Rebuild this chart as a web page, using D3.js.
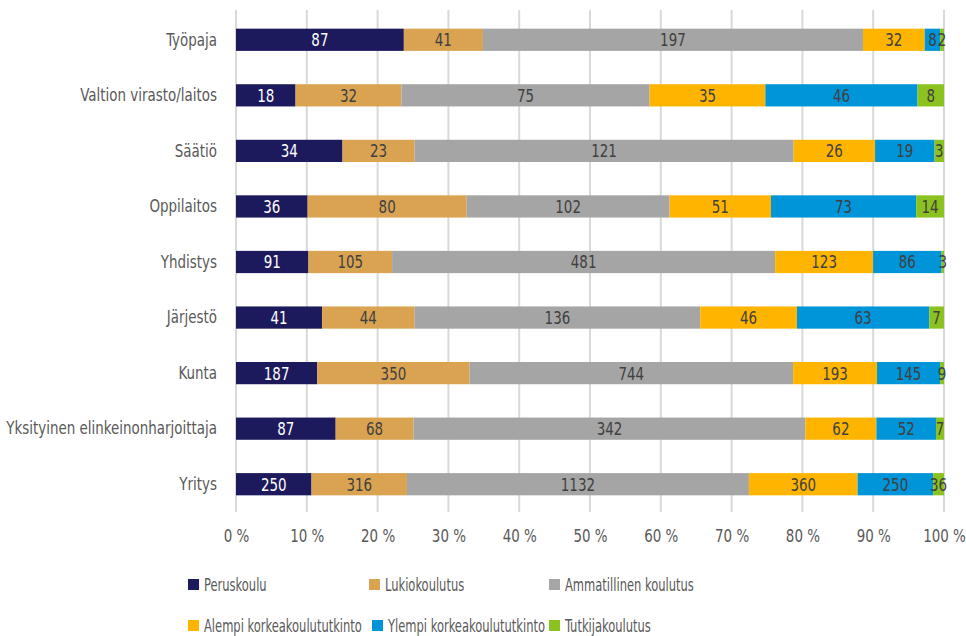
<!DOCTYPE html>
<html>
<head>
<meta charset="utf-8">
<script src="https://cdn.jsdelivr.net/npm/d3@7"></script>
<style>
  body { margin: 0; background: #fff; }
  svg text { font-family: "Liberation Sans Narrow", "DejaVu Sans Condensed", "Roboto", sans-serif; }
</style>
</head>
<body>
<div id="canvas"></div>
<script>
const categories = [
  "Työpaja",
  "Valtion virasto/laitos",
  "Säätiö",
  "Oppilaitos",
  "Yhdistys",
  "Järjestö",
  "Kunta",
  "Yksityinen elinkeinonharjoittaja",
  "Yritys"
];

const seriesNames = [
  "Peruskoulu",
  "Lukiokoulutus",
  "Ammatillinen koulutus",
  "Alempi korkeakoulututkinto",
  "Ylempi korkeakoulututkinto",
  "Tutkijakoulutus"
];

// one array per series, same order as categories
const peruskoulu = [87, 18, 34, 36, 91, 41, 187, 87, 250];
const lukio = [41, 32, 23, 80, 105, 44, 350, 68, 316];
const ammatillinen = [197, 75, 121, 102, 481, 136, 744, 342, 1132];
const alempi = [32, 35, 26, 51, 123, 46, 193, 62, 360];
const ylempi = [8, 46, 19, 73, 86, 63, 145, 52, 250];
const tutkija = [2, 8, 3, 14, 3, 7, 9, 7, 36];

const tickValues = [0, 0.1, 0.2, 0.3, 0.4, 0.5, 0.6, 0.7, 0.8, 0.9, 1];

const colors = ["#1c1a5c", "#d9a352", "#a5a5a5", "#ffb400", "#0094d8", "#8cc21f"];
const labelColors = ["#ffffff", "#404040", "#404040", "#404040", "#404040", "#404040"];

const allSeries = [peruskoulu, lukio, ammatillinen, alempi, ylempi, tutkija];

const rows = categories.map((c, i) => {
  const r = { name: c };
  seriesNames.forEach((s, j) => { r[s] = allSeries[j][i]; });
  return r;
});

const width = 966;
const height = 636;
const margin = { top: 12, left: 236, right: 22, bottom: 124 };
const iwidth = width - margin.left - margin.right;
const iheight = height - margin.top - margin.bottom;
const fontSize = 18;

const svg = d3.select("#canvas").append("svg")
  .attr("width", width)
  .attr("height", height);

// the original font is a condensed one; measure and squeeze horizontally
const measure = (str) => {
  const p = svg.append("text").attr("font-size", fontSize).text(str);
  const w = p.node().getComputedTextLength();
  p.remove();
  return w;
};
const k = Math.min(1, 211 / measure("Yksityinen elinkeinonharjoittaja"));
const kLegend = Math.min(1, 158 / measure("Alempi korkeakoulututkinto"));

const condense = (sel, f = k) => sel.each(function () {
  const t = d3.select(this);
  const x0 = +t.attr("x") || 0;
  t.attr("x", x0 / f).attr("transform", `scale(${f},1)`);
});

const g = svg.append("g")
  .attr("transform", `translate(${margin.left}, ${margin.top})`);

const x = d3.scaleLinear().domain([0, 1]).range([0, iwidth]);
const y = d3.scaleBand().domain(categories).range([0, iheight])
  .paddingInner(0.6).paddingOuter(0.3);

// gridlines
g.append("g")
  .selectAll("line")
  .data(tickValues)
  .join("line")
  .attr("x1", d => x(d))
  .attr("x2", d => x(d))
  .attr("y1", -2)
  .attr("y2", iheight)
  .attr("stroke", "#d9d9d9")
  .attr("stroke-width", 2);

const stack = d3.stack()
  .keys(seriesNames)
  .offset(d3.stackOffsetExpand);
const stacked = stack(rows);

const layers = g.selectAll("g.layer")
  .data(stacked)
  .join("g")
  .attr("class", "layer")
  .attr("fill", (d, i) => colors[i]);

layers.selectAll("rect")
  .data(d => d)
  .join("rect")
  .attr("x", d => x(d[0]))
  .attr("y", d => y(d.data.name))
  .attr("width", d => x(d[1]) - x(d[0]))
  .attr("height", y.bandwidth());

// value labels
stacked.forEach((layer, i) => {
  g.append("g")
    .selectAll("text")
    .data(layer)
    .join("text")
    .attr("x", d => (x(d[0]) + x(d[1])) / 2)
    .attr("y", d => y(d.data.name) + y.bandwidth() / 2)
    .attr("dy", "0.36em")
    .attr("text-anchor", "middle")
    .attr("font-size", fontSize)
    .attr("fill", labelColors[i])
    .text(d => d.data[layer.key])
    .call(condense);
});

// category axis
const yAxis = g.append("g").call(d3.axisLeft(y).tickSize(0).tickPadding(19));
yAxis.select(".domain").remove();
yAxis.selectAll("text").attr("font-size", fontSize).attr("fill", "#595959").call(condense);

// percent axis
const xAxis = g.append("g")
  .attr("transform", `translate(0, ${iheight})`)
  .call(d3.axisBottom(x).tickValues(tickValues).tickSize(0).tickPadding(17)
    .tickFormat(d => Math.round(d * 100) + " %"));
xAxis.select(".domain").remove();
xAxis.selectAll("text").attr("font-size", fontSize).attr("fill", "#595959").call(condense);

// legend
const legendPos = [
  [188, 585], [369, 585], [549, 585],
  [188, 626], [372, 626], [549, 626]
];
const legend = svg.append("g")
  .selectAll("g")
  .data(seriesNames)
  .join("g")
  .attr("transform", (d, i) => `translate(${legendPos[i][0]}, ${legendPos[i][1]})`);
legend.append("rect")
  .attr("x", 0).attr("y", -6)
  .attr("width", 11).attr("height", 11)
  .attr("fill", (d, i) => colors[i]);
legend.append("text")
  .attr("x", 16).attr("y", 0)
  .attr("dy", "0.36em")
  .attr("font-size", fontSize)
  .attr("fill", "#595959")
  .text(d => d)
  .call(condense, kLegend);
</script>
</body>
</html>
